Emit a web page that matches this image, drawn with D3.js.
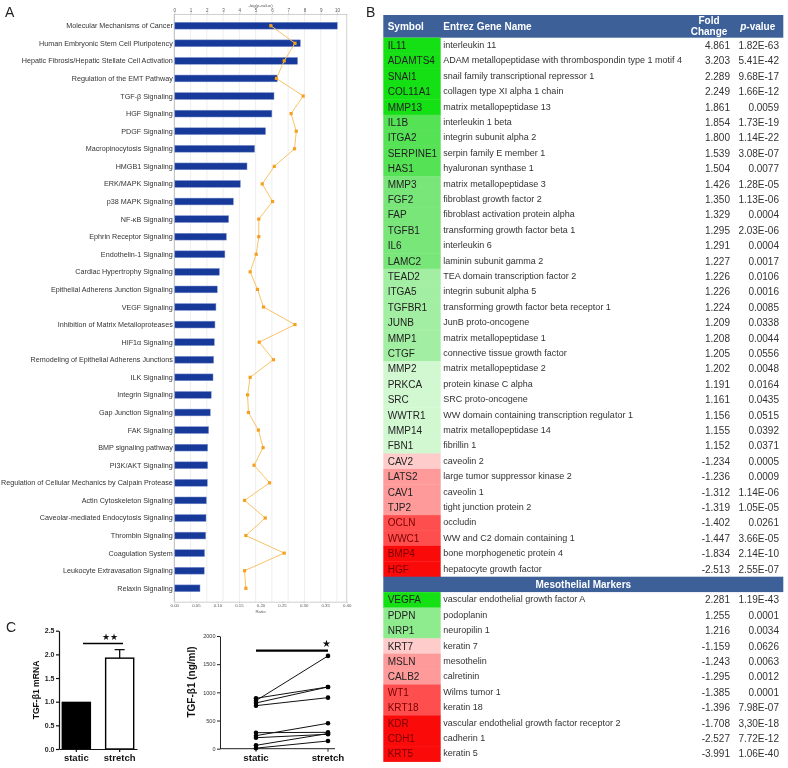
<!DOCTYPE html>
<html><head><meta charset="utf-8">
<script src="https://cdn.jsdelivr.net/npm/d3@7"></script>
<style>
body{margin:0;background:#fff}
svg{display:block;will-change:transform}
text{font-family:"Liberation Sans",Arial,sans-serif}
</style>
</head><body><svg id="c" width="788" height="768"></svg>
<script>
// ---------------- Panel A data ----------------
const pathways = [
 "Molecular Mechanisms of Cancer","Human Embryonic Stem Cell Pluripotency",
 "Hepatic Fibrosis/Hepatic Stellate Cell Activation","Regulation of the EMT Pathway",
 "TGF-β Signaling","HGF Signaling","PDGF Signaling","Macropinocytosis Signaling",
 "HMGB1 Signaling","ERK/MAPK Signaling","p38 MAPK Signaling","NF-κB Signaling",
 "Ephrin Receptor Signaling","Endothelin-1 Signaling","Cardiac Hypertrophy Signaling",
 "Epithelial Adherens Junction Signaling","VEGF Signaling","Inhibition of Matrix Metalloproteases",
 "HIF1α Signaling","Remodeling of Epithelial Adherens Junctions","ILK Signaling",
 "Integrin Signaling","Gap Junction Signaling","FAK Signaling","BMP signaling pathway",
 "PI3K/AKT Signaling","Regulation of Cellular Mechanics by Calpain Protease",
 "Actin Cytoskeleton Signaling","Caveolar-mediated Endocytosis Signaling","Thrombin Signaling",
 "Coagulation System","Leukocyte Extravasation Signaling","Relaxin Signaling"];
const negLogP = [10.02,7.75,7.58,6.33,6.13,6.0,5.61,4.94,4.47,4.06,3.63,3.34,3.2,3.11,2.77,2.64,
 2.56,2.5,2.46,2.42,2.38,2.27,2.21,2.11,2.05,2.05,2.03,1.97,1.95,1.93,1.86,1.84,1.58];
const ratio = [0.224,0.280,0.255,0.237,0.299,0.271,0.283,0.279,0.232,0.204,0.228,0.196,0.196,
 0.190,0.176,0.193,0.207,0.280,0.197,0.230,0.176,0.170,0.172,0.195,0.206,0.185,0.221,0.163,
 0.211,0.166,0.255,0.163,0.166];
const negLogTicks = [0,1,2,3,4,5,6,7,8,9,10];
const ratioTicks = [0,0.05,0.10,0.15,0.20,0.25,0.30,0.35,0.40];

// ---------------- Panel B data ----------------
const symbols1 = ["IL11","ADAMTS4","SNAI1","COL11A1","MMP13","IL1B","ITGA2","SERPINE1","HAS1",
 "MMP3","FGF2","FAP","TGFB1","IL6","LAMC2","TEAD2","ITGA5","TGFBR1","JUNB","MMP1","CTGF",
 "MMP2","PRKCA","SRC","WWTR1","MMP14","FBN1","CAV2","LATS2","CAV1","TJP2","OCLN","WWC1","BMP4","HGF"];
const names1 = ["interleukin 11","ADAM metallopeptidase with thrombospondin type 1 motif 4",
 "snail family transcriptional repressor 1","collagen type XI alpha 1 chain","matrix metallopeptidase 13",
 "interleukin 1 beta","integrin subunit alpha 2","serpin family E member 1","hyaluronan synthase 1",
 "matrix metallopeptidase 3","fibroblast growth factor 2","fibroblast activation protein alpha",
 "transforming growth factor beta 1","interleukin 6","laminin subunit gamma 2",
 "TEA domain transcription factor 2","integrin subunit alpha 5","transforming growth factor beta receptor 1",
 "JunB proto-oncogene","matrix metallopeptidase 1","connective tissue growth factor",
 "matrix metallopeptidase 2","protein kinase C alpha","SRC proto-oncogene",
 "WW domain containing transcription regulator 1","matrix metallopeptidase 14","fibrillin 1",
 "caveolin 2","large tumor suppressor kinase 2","caveolin 1","tight junction protein 2","occludin",
 "WW and C2 domain containing 1","bone morphogenetic protein 4","hepatocyte growth factor"];
const fold1 = ["4.861","3.203","2.289","2.249","1.861","1.854","1.800","1.539","1.504","1.426","1.350",
 "1.329","1.295","1.291","1.227","1.226","1.226","1.224","1.209","1.208","1.205","1.202","1.191",
 "1.161","1.156","1.155","1.152","-1.234","-1.236","-1.312","-1.319","-1.402","-1.447","-1.834","-2.513"];
const pval1 = ["1.82E-63","5.41E-42","9.68E-17","1.66E-12","0.0059","1.73E-19","1.14E-22","3.08E-07",
 "0.0077","1.28E-05","1.13E-06","0.0004","2.03E-06","0.0004","0.0017","0.0106","0.0016","0.0085",
 "0.0338","0.0044","0.0556","0.0048","0.0164","0.0435","0.0515","0.0392","0.0371","0.0005","0.0009",
 "1.14E-06","1.05E-05","0.0261","3.66E-05","2.14E-10","2.55E-07"];
const symbols2 = ["VEGFA","PDPN","NRP1","KRT7","MSLN","CALB2","WT1","KRT18","KDR","CDH1","KRT5"];
const names2 = ["vascular endothelial growth factor A","podoplanin","neuropilin 1","keratin 7","mesothelin",
 "calretinin","Wilms tumor 1","keratin 18","vascular endothelial growth factor receptor 2","cadherin 1","keratin 5"];
const fold2 = ["2.281","1.255","1.216","-1.159","-1.243","-1.295","-1.385","-1.396","-1.708","-2.527","-3.991"];
const pval2 = ["1.19E-43","0.0001","0.0034","0.0626","0.0063","0.0012","0.0001","7.98E-07","3,30E-18","7.72E-12","1.06E-40"];
const sectionTitle = "Mesothelial Markers";

// ---------------- Panel C data ----------------
const groups = ["static","stretch"];
const mrnaMean = [1.0, 1.92];
const mrnaErr = [0, 0.18];
const mrnaTicks = [0,0.5,1.0,1.5,2.0,2.5];
const proteinStatic  = [895, 853, 812, 764, 284, 231, 195, 60, 10];
const proteinStretch = [1096, 1647, 1096, 906, 291, 451, 256, 270, 137];
const proteinTicks = [0,500,1000,1500,2000];

// =================================================
const svg = d3.select("#c");
const FONT = '"Liberation Sans",Arial,sans-serif';
function styleAxis(g, opts){
  g.selectAll("text").attr("font-family",FONT).attr("font-size",opts.fs).attr("fill",opts.tc||"#333")
    .attr("font-weight",opts.fw||"normal");
  g.selectAll("line").attr("stroke",opts.lc).attr("stroke-width",opts.lw);
  g.select(".domain").attr("stroke",opts.lc).attr("stroke-width",opts.lw);
}

// ---------------- Panel A ----------------
const A = svg.append("g");
const plotTop = 14, plotBot = 601.7, plotL = 174.3, plotR = 346.7;
const xP = d3.scaleLinear().domain([0,10.6]).range([plotL,plotR]);
const xR = d3.scaleLinear().domain([0,0.4]).range([plotL,plotR]);
const yA = d3.scalePoint().domain(pathways).range([25.7,588.3]);

A.append("text").text("A").attr("x",5).attr("y",17).attr("font-size",14).attr("fill","#222");

A.selectAll("line.grid").data(negLogTicks.slice(1)).join("line").attr("class","grid")
  .attr("x1",d=>xP(d)).attr("x2",d=>xP(d)).attr("y1",plotTop).attr("y2",plotBot)
  .attr("stroke","#e6e6e6").attr("stroke-width",0.7);
A.append("line").attr("x1",plotR).attr("x2",plotR).attr("y1",plotTop).attr("y2",plotBot)
  .attr("stroke","#d0d0d0").attr("stroke-width",1);

const axTop = A.append("g").attr("transform",`translate(0,${plotTop})`)
  .call(d3.axisTop(xP).tickValues(negLogTicks).tickSize(1.5).tickSizeOuter(0).tickPadding(0.8));
styleAxis(axTop,{fs:4.5,lc:"#bbb",lw:0.7,tc:"#555"});
const axBot = A.append("g").attr("transform",`translate(0,${plotBot})`)
  .call(d3.axisBottom(xR).tickValues(ratioTicks).tickFormat(d3.format(".2f")).tickSize(1.5).tickSizeOuter(0).tickPadding(0.8));
styleAxis(axBot,{fs:4.3,lc:"#bbb",lw:0.7,tc:"#555"});
A.append("text").text("-log(p-value)").attr("x",(plotL+plotR)/2).attr("y",6.5)
  .attr("text-anchor","middle").attr("font-size",4.3).attr("fill","#555");
A.append("text").text("Ratio").attr("x",(plotL+plotR)/2).attr("y",613)
  .attr("text-anchor","middle").attr("font-size",4.3).attr("fill","#555");

A.append("line").attr("x1",plotL).attr("x2",plotL).attr("y1",plotTop).attr("y2",plotBot)
  .attr("stroke","#b8b8b8").attr("stroke-width",1);

const rowsA = pathways.map((p,i)=>({p, v:negLogP[i], r:ratio[i]}));
A.selectAll("rect.bar").data(rowsA).join("rect").attr("class","bar")
  .attr("x",xP(0)+0.5).attr("y",d=>yA(d.p)-3.4).attr("height",6.8)
  .attr("width",d=>xP(d.v)-xP(0)-0.5)
  .attr("fill","#173a9a").attr("stroke","#7d93cf").attr("stroke-width",0.5);
A.selectAll("text.lab").data(rowsA).join("text").attr("class","lab")
  .attr("x",plotL-1.5).attr("y",d=>yA(d.p)).attr("dy","0.35em").attr("text-anchor","end")
  .attr("font-size",7.2).attr("fill","#333").text(d=>d.p);

A.append("path").datum(rowsA)
  .attr("d",d3.line().x(d=>xR(d.r)).y(d=>yA(d.p)))
  .attr("fill","none").attr("stroke","#f8c266").attr("stroke-width",1);
A.selectAll("rect.pt").data(rowsA).join("rect").attr("class","pt")
  .attr("x",d=>xR(d.r)-1.6).attr("y",d=>yA(d.p)-1.6).attr("width",3.2).attr("height",3.2)
  .attr("fill","#f5a020");

// ---------------- Panel B ----------------
const B = svg.append("g");
B.append("text").text("B").attr("x",366).attr("y",17).attr("font-size",14).attr("fill","#222");
const tL = 383.3, tR = 783.3, symW = 57.4, rowH = 15.4, headTop = 15, headH = 22.7;
const HEAD = "#3d6098";
const xSym = tL + 4.4, xName = 443.3, xFold = 730, xP2 = 779;

B.append("rect").attr("x",tL).attr("y",headTop).attr("width",tR-tL).attr("height",headH).attr("fill",HEAD);
const hy = headTop + headH/2;
const hdr = B.append("g").attr("fill","#fff").attr("font-weight","bold").attr("font-size",10);
hdr.append("text").attr("x",xSym).attr("y",hy).attr("dy","0.35em").text("Symbol");
hdr.append("text").attr("x",xName).attr("y",hy).attr("dy","0.35em").text("Entrez Gene Name");
hdr.append("text").attr("x",709).attr("y",hy-5.8).attr("dy","0.35em").attr("text-anchor","middle").text("Fold");
hdr.append("text").attr("x",709).attr("y",hy+5.4).attr("dy","0.35em").attr("text-anchor","middle").text("Change");
const pv = hdr.append("text").attr("x",757.7).attr("y",hy).attr("dy","0.35em").attr("text-anchor","middle");
pv.append("tspan").attr("font-style","italic").text("p");
pv.append("tspan").text("-value");

const col1 = d3.scaleThreshold().domain([-1.6,-1.38,-1.235,0,1.2025,1.2265,1.5,1.857])
  .range(["#fb0a0a","#ff4e4e","#ff9a9a","#ffcccc","#d2f8d2","#a2eea2","#78e678","#55e255","#14e014"]);
const col2 = d3.scaleThreshold().domain([-1.6,-1.36,-1.2,0,2.0])
  .range(["#fb0a0a","#ff4e4e","#ff9a9a","#ffcccc","#8eeb8e","#14e014"]);
const txtCol = v => v < -1.36 ? "#7a0000" : "#222";

function drawTable(g, top, syms, names, folds, pvals, colScale){
  const yS = d3.scaleBand().domain(d3.range(syms.length)).range([top, top + syms.length*rowH]);
  const rows = syms.map((s,i)=>({s, n:names[i], f:folds[i], p:pvals[i], fv:+folds[i], i}));
  const rg = g.selectAll("g.r").data(rows).join("g");
  rg.append("rect").attr("x",tL).attr("y",d=>yS(d.i)).attr("width",symW).attr("height",rowH+0.4)
    .attr("fill",d=>colScale(d.fv));
  rg.append("text").attr("x",xSym).attr("y",d=>yS(d.i)+rowH/2).attr("dy","0.36em")
    .attr("font-size",10).attr("fill",d=>txtCol(d.fv)).text(d=>d.s);
  rg.append("text").attr("x",xName).attr("y",d=>yS(d.i)+rowH/2-0.5).attr("dy","0.35em")
    .attr("font-size",9).attr("fill","#333").text(d=>d.n);
  rg.append("text").attr("x",xFold).attr("y",d=>yS(d.i)+rowH/2).attr("dy","0.36em").attr("text-anchor","end")
    .attr("font-size",10).attr("fill","#333").text(d=>d.f);
  rg.append("text").attr("x",xP2).attr("y",d=>yS(d.i)+rowH/2).attr("dy","0.36em").attr("text-anchor","end")
    .attr("font-size",10).attr("fill","#333").text(d=>d.p);
  return top + syms.length*rowH;
}
const t1 = B.append("g");
const end1 = drawTable(t1, headTop+headH, symbols1, names1, fold1, pval1, col1);
B.append("rect").attr("x",tL).attr("y",end1).attr("width",tR-tL).attr("height",rowH).attr("fill",HEAD);
B.append("text").attr("x",(tL+tR)/2).attr("y",end1+rowH/2).attr("dy","0.36em").attr("text-anchor","middle")
  .attr("fill","#fff").attr("font-weight","bold").attr("font-size",10).text(sectionTitle);
const t2 = B.append("g");
drawTable(t2, end1+rowH, symbols2, names2, fold2, pval2, col2);

// ---------------- Panel C (left) ----------------
const C = svg.append("g");
C.append("text").text("C").attr("x",6).attr("y",632).attr("font-size",14).attr("fill","#222");
const yC1 = d3.scaleLinear().domain([0,2.5]).range([749,630.7]);
const xC1 = d3.scaleBand().domain(groups).range([59,137]).paddingInner(0.32).paddingOuter(0.06);
const axC1 = C.append("g").attr("transform","translate(59,0)")
  .call(d3.axisLeft(yC1).tickValues(mrnaTicks).tickFormat(d3.format(".1f")).tickSize(3).tickSizeOuter(0).tickPadding(1.5));
styleAxis(axC1,{fs:7,lc:"#111",lw:1.2,tc:"#222",fw:"bold"});
const mr = groups.map((g,i)=>({g, m:mrnaMean[i], e:mrnaErr[i]}));
C.selectAll("line.eb").data(mr.filter(d=>d.e>0)).join("line")
  .attr("x1",d=>xC1(d.g)+xC1.bandwidth()/2).attr("x2",d=>xC1(d.g)+xC1.bandwidth()/2)
  .attr("y1",d=>yC1(d.m)).attr("y2",d=>yC1(d.m+d.e)).attr("stroke","#111").attr("stroke-width",1.3);
C.selectAll("line.ec").data(mr.filter(d=>d.e>0)).join("line")
  .attr("x1",d=>xC1(d.g)+xC1.bandwidth()/2-5).attr("x2",d=>xC1(d.g)+xC1.bandwidth()/2+5)
  .attr("y1",d=>yC1(d.m+d.e)).attr("y2",d=>yC1(d.m+d.e)).attr("stroke","#111").attr("stroke-width",1.3);
C.selectAll("rect.mb").data(mr).join("rect")
  .attr("x",d=>xC1(d.g)+(d.g==="static"?0:0.7)).attr("width",d=>xC1.bandwidth()-(d.g==="static"?0:1.4))
  .attr("y",d=>yC1(d.m)).attr("height",d=>yC1(0)-yC1(d.m))
  .attr("fill",(d,i)=>i===0?"#000":"#fff").attr("stroke","#000").attr("stroke-width",(d,i)=>i===0?0:1.4);
const axC1b = C.append("g").attr("transform",`translate(0,${yC1(0)})`)
  .call(d3.axisBottom(xC1).tickSize(3).tickSizeOuter(0).tickPadding(2));
styleAxis(axC1b,{fs:9.5,lc:"#111",lw:1.2,tc:"#111",fw:"bold"});
C.append("line").attr("x1",83).attr("x2",123).attr("y1",yC1(2.23)).attr("y2",yC1(2.23))
  .attr("stroke","#000").attr("stroke-width",1.6);
C.append("text").attr("x",110).attr("y",yC1(2.23)-3).attr("text-anchor","middle").attr("font-size",8.5)
  .attr("fill","#111").text("★★");
C.append("text").attr("transform","translate(39,690) rotate(-90)").attr("text-anchor","middle")
  .attr("font-size",8.6).attr("font-weight","bold").attr("fill","#111").text("TGF-β1 mRNA");

// ---------------- Panel C (right) ----------------
const yC2 = d3.scaleLinear().domain([0,2000]).range([748.7,636]);
const xC2 = d3.scalePoint().domain(groups).range([256,328]);
const axC2 = C.append("g").attr("transform","translate(220,0)")
  .call(d3.axisLeft(yC2).tickValues(proteinTicks).tickFormat(d3.format("d")).tickSize(3).tickSizeOuter(0).tickPadding(1.5));
styleAxis(axC2,{fs:5.5,lc:"#222",lw:1,tc:"#333"});
C.append("line").attr("x1",220).attr("x2",335).attr("y1",yC2(0)).attr("y2",yC2(0)).attr("stroke","#222").attr("stroke-width",1);
C.selectAll("line.xt2").data(groups).join("line").attr("x1",d=>xC2(d)).attr("x2",d=>xC2(d))
  .attr("y1",yC2(0)).attr("y2",yC2(0)+3).attr("stroke","#222").attr("stroke-width",1);
C.selectAll("text.xl2").data(groups).join("text").attr("x",d=>xC2(d)).attr("y",yC2(0)+12)
  .attr("text-anchor","middle").attr("font-size",9.8).attr("font-weight","bold").attr("fill","#111").text(d=>d);
const pairs = proteinStatic.map((s,i)=>({a:s,b:proteinStretch[i]}));
C.selectAll("line.pr").data(pairs).join("line")
  .attr("x1",xC2("static")).attr("x2",xC2("stretch")).attr("y1",d=>yC2(d.a)).attr("y2",d=>yC2(d.b))
  .attr("stroke","#111").attr("stroke-width",1);
C.selectAll("circle.ps").data(proteinStatic).join("circle").attr("cx",xC2("static")).attr("cy",d=>yC2(d)).attr("r",2.3).attr("fill","#000");
C.selectAll("circle.pt2").data(proteinStretch).join("circle").attr("cx",xC2("stretch")).attr("cy",d=>yC2(d)).attr("r",2.3).attr("fill","#000");
C.append("line").attr("x1",xC2("static")).attr("x2",xC2("stretch")).attr("y1",yC2(1741)).attr("y2",yC2(1741))
  .attr("stroke","#000").attr("stroke-width",2.4);
C.append("text").attr("x",326).attr("y",yC2(1741)-3.5).attr("text-anchor","middle").attr("font-size",10)
  .attr("fill","#111").text("★");
C.append("text").attr("transform","translate(195,682) rotate(-90)").attr("text-anchor","middle")
  .attr("font-size",10).attr("font-weight","bold").attr("fill","#111").text("TGF-β1 (ng/ml)");
</script>
</body></html>
